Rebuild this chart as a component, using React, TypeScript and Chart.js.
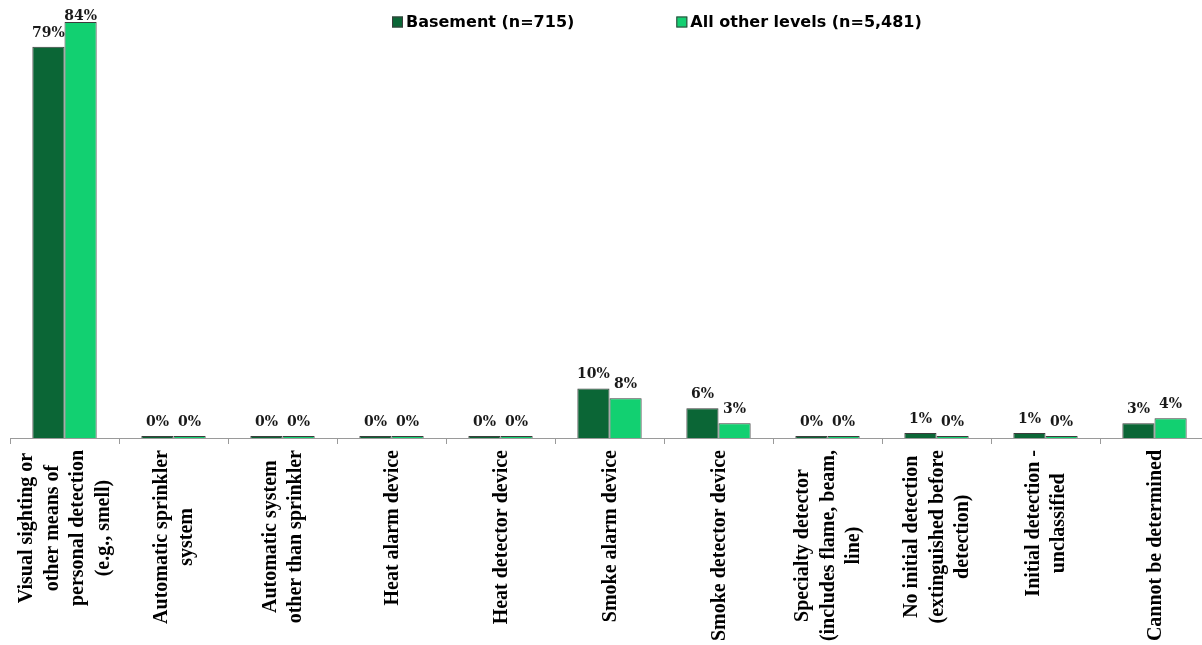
import React, { useEffect, useRef } from "react";
import { Chart, registerables } from "chart.js";

Chart.register(...registerables);

// Detection categories, each split into the lines shown under the axis
const categories: string[][] = [
  ["Visual sighting or", "other means of", "personal detection", "(e.g., smell)"],
  ["Automatic sprinkler", "system"],
  ["Automatic system", "other than sprinkler"],
  ["Heat alarm device"],
  ["Heat detector device"],
  ["Smoke alarm device"],
  ["Smoke detector device"],
  ["Specialty detector", "(includes flame, beam,", "line)"],
  ["No initial detection", "(extinguished before", "detection)"],
  ["Initial detection -", "unclassified"],
  ["Cannot be determined"],
];

const seriesNames = ["Basement (n=715)", "All other levels (n=5,481)"];

// Percent of fires by detection type
const basement = [79, 0, 0, 0, 0, 10, 6, 0, 1, 1, 3];
const otherLevels = [84, 0, 0, 0, 0, 8, 3, 0, 0, 0, 4];

const LABEL_FONT = "bold 20px 'Liberation Serif', 'Times New Roman', serif";
const VALUE_FONT = "bold 14px 'DejaVu Serif', serif";
const LEGEND_FONT = "bold 16px 'DejaVu Sans', sans-serif";
const LEGEND_X = 392;
const LEGEND_Y = 22;
const LEGEND_GAP = 102;

// Value labels above each bar, kept inside the canvas near the top
const valueLabels = {
  id: "valueLabels",
  afterDatasetsDraw(chart: any) {
    const ctx = chart.ctx;
    ctx.save();
    ctx.font = VALUE_FONT;
    ctx.fillStyle = "#1a1a1a";
    ctx.textAlign = "center";
    ctx.textBaseline = "alphabetic";
    chart.data.datasets.forEach((ds: any, di: number) => {
      const meta = chart.getDatasetMeta(di);
      meta.data.forEach((bar: any, i: number) => {
        const top = Math.min(bar.y, bar.base);
        const y = Math.max(top - 10, 20);
        ctx.fillText(`${ds.data[i]}%`, bar.x, y);
      });
    });
    ctx.restore();
  },
};

// Rotated category labels: block aligned to the axis, lines centred on each other
const categoryLabels = {
  id: "categoryLabels",
  afterDraw(chart: any) {
    const ctx = chart.ctx;
    const xScale = chart.scales.x;
    const lineHeight = 25.5;
    const topY = xScale.top + 12;
    ctx.save();
    ctx.font = LABEL_FONT;
    ctx.fillStyle = "#000";
    ctx.textAlign = "center";
    ctx.textBaseline = "middle";
    categories.forEach((lines, i) => {
      const x = xScale.getPixelForValue(i) + 1;
      const maxW = Math.max(...lines.map((l) => ctx.measureText(l).width));
      ctx.save();
      ctx.translate(x, topY);
      ctx.rotate(-Math.PI / 2);
      lines.forEach((line, n) => {
        const offset = (n - (lines.length - 1) / 2) * lineHeight;
        ctx.fillText(line, -maxW / 2, offset);
      });
      ctx.restore();
    });
    ctx.restore();
  },
};

// One-row legend across the top of the plot
const topLegend = {
  id: "topLegend",
  afterDraw(chart: any) {
    const ctx = chart.ctx;
    ctx.save();
    ctx.font = LEGEND_FONT;
    ctx.textBaseline = "middle";
    ctx.textAlign = "left";
    let x = LEGEND_X;
    chart.data.datasets.forEach((ds: any) => {
      const box = 11;
      ctx.fillStyle = ds.backgroundColor;
      ctx.fillRect(x, LEGEND_Y - box / 2, box, box);
      ctx.strokeStyle = "#3c3c3c";
      ctx.lineWidth = 1;
      ctx.strokeRect(x + 0.5, LEGEND_Y - box / 2 + 0.5, box - 1, box - 1);
      ctx.fillStyle = "#000";
      const tx = x + box + 3;
      ctx.fillText(ds.label, tx, LEGEND_Y + 1);
      x = tx + ctx.measureText(ds.label).width + LEGEND_GAP;
    });
    ctx.restore();
  },
};

export default function App() {
  const canvasRef = useRef<HTMLCanvasElement | null>(null);

  useEffect(() => {
    if (!canvasRef.current) return;
    const chart = new Chart(canvasRef.current, {
      type: "bar",
      data: {
        labels: categories.map((c) => c.join(" ")),
        datasets: [
          {
            label: seriesNames[0],
            data: basement,
            backgroundColor: "#0b6636",
            borderColor: "#3c3c3c",
            borderWidth: 1,
            barPercentage: 1,
            categoryPercentage: 0.59,
            minBarLength: 2,
          },
          {
            label: seriesNames[1],
            data: otherLevels,
            backgroundColor: "#12d071",
            borderColor: "#3c3c3c",
            borderWidth: 1,
            barPercentage: 1,
            categoryPercentage: 0.59,
            minBarLength: 2,
          },
        ],
      },
      options: {
        responsive: false,
        animation: false,
        events: [],
        layout: { padding: { left: 10, right: 1, top: 12, bottom: 201 } },
        scales: {
          x: {
            grid: {
              display: true,
              drawOnChartArea: false,
              drawTicks: true,
              tickLength: 6,
              color: "#9a9a9a",
              offset: true,
            },
            border: { display: true, color: "#9a9a9a", width: 1 },
            ticks: { display: false },
          },
          y: {
            display: false,
            min: 0,
            max: 86,
          },
        },
        plugins: {
          legend: { display: false },
          tooltip: { enabled: false },
        },
      },
      plugins: [valueLabels, categoryLabels, topLegend],
    });
    return () => chart.destroy();
  }, []);

  return (
    <div
      style={{
        position: "absolute",
        left: 0,
        top: 0,
        width: 1202,
        height: 645,
        overflow: "hidden",
        background: "#fff",
      }}
    >
      <canvas ref={canvasRef} width={1210} height={645} />
    </div>
  );
}
